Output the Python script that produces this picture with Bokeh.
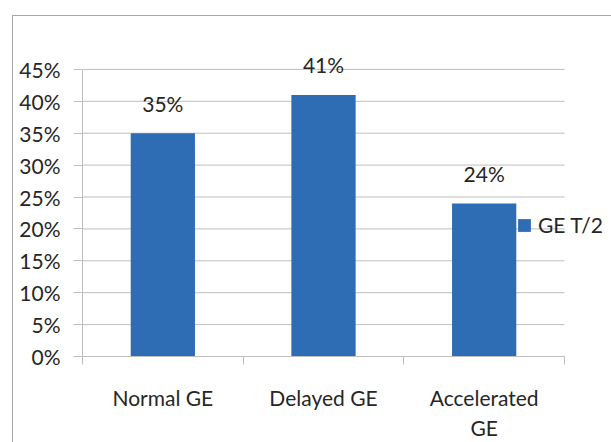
from bokeh.plotting import figure
from bokeh.models import (ColumnDataSource, FixedTicker, NumeralTickFormatter,
                          LabelSet, Range1d, Legend, LegendItem, InlineStyleSheet)
from bokeh.core.properties import value
from bokeh.embed import file_html
from bokeh.resources import INLINE

categories = ["Normal GE", "Delayed GE", "Accelerated\nGE"]
values = [0.35, 0.41, 0.24]
series_name = "GE T/2"
y_ticks = [0.00, 0.05, 0.10, 0.15, 0.20, 0.25, 0.30, 0.35, 0.40, 0.45]

BAR = "#2E6DB4"
GRID = "#BEBEBE"
TEXT = "#262626"
FONT = "Lato"
FS = "21px"

n = len(categories)
pos = [i + 0.5 for i in range(n)]
src = ColumnDataSource(dict(
    x=pos, top=values,
    label=[f"{round(v * 100)}%" for v in values],
))

# frame runs to the right edge so the legend can sit beside the last bar
x_end = n * 529 / 482
p = figure(width=611, height=442, output_backend="svg", toolbar_location=None,
           x_range=Range1d(0, x_end), y_range=Range1d(0, 0.50),
           min_border_left=82, min_border_right=0, min_border_top=37,
           min_border_bottom=85)
p.outline_line_color = None
p.background_fill_color = "white"
p.border_fill_color = "white"

# chart-area border (left and top edges)
p.stylesheets = [InlineStyleSheet(css="""
:host::after {
  content: "";
  position: absolute;
  left: 12px; top: 15px; right: 0; bottom: 0;
  border-left: 1px solid #A6A6A6;
  border-top: 1px solid #A6A6A6;
  pointer-events: none;
}
""")]

# horizontal gridlines spanning the category area only
p.segment(x0=[0] * len(y_ticks), x1=[n] * len(y_ticks), y0=y_ticks, y1=y_ticks,
          line_color=GRID, line_width=1, level="underlay")

bars = p.vbar(x="x", top="top", width=0.40, source=src,
              fill_color=BAR, line_color=None)

# y axis: percent ticks every 5%
p.yaxis.ticker = FixedTicker(ticks=y_ticks)
p.yaxis.formatter = NumeralTickFormatter(format="0%")
p.yaxis.bounds = (0, 0.45)
p.yaxis.major_tick_out = 9
p.yaxis.major_tick_in = 0
p.yaxis.minor_tick_line_color = None
p.yaxis.axis_line_color = GRID
p.yaxis.major_tick_line_color = GRID
p.yaxis.major_label_standoff = 13

# x axis: labels at category centres, ticks at category boundaries
p.xaxis.ticker = FixedTicker(ticks=pos, minor_ticks=list(range(n + 1)))
p.xaxis.major_label_overrides = {pp: c for pp, c in zip(pos, categories)}
p.xaxis.bounds = (0, n)
p.xaxis.major_tick_out = 0
p.xaxis.major_tick_in = 0
p.xaxis.minor_tick_out = 8
p.xaxis.minor_tick_in = 0
p.xaxis.minor_tick_line_color = GRID
p.xaxis.axis_line_color = GRID
p.xaxis.major_label_standoff = 20

for ax in (p.xaxis[0], p.yaxis[0]):
    ax.major_label_text_font = FONT
    ax.major_label_text_font_size = FS
    ax.major_label_text_color = TEXT

p.xgrid.grid_line_color = None
p.ygrid.grid_line_color = None

labels = LabelSet(x="x", y="top", text="label", source=src,
                  text_align="center", text_baseline="middle", y_offset=30,
                  text_font=value(FONT), text_font_size=value(FS),
                  text_color=TEXT)
p.add_layout(labels)

legend = Legend(items=[LegendItem(label=series_name, renderers=[bars])],
                location=(434, 119), padding=0, margin=0, spacing=0,
                glyph_width=16, glyph_height=16, label_height=16,
                label_standoff=6, label_text_font=FONT,
                label_text_font_size=FS, label_text_color=TEXT,
                border_line_alpha=0, background_fill_alpha=0)
p.add_layout(legend)

open("out.html", "w").write(file_html(p, INLINE))
